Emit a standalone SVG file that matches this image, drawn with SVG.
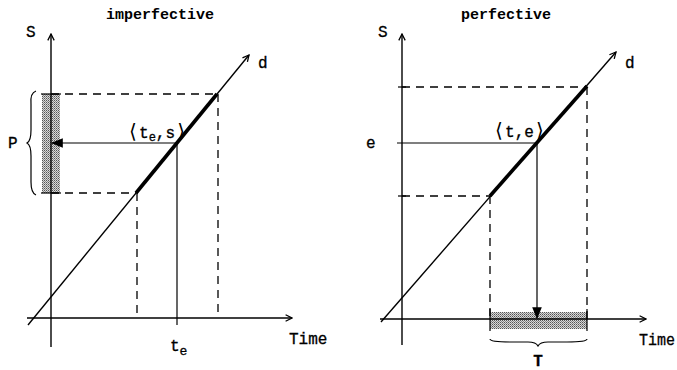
<svg xmlns="http://www.w3.org/2000/svg" width="677" height="370" viewBox="0 0 677 370">
<style>
.ln{stroke:#000;stroke-width:1.2;fill:none}
.ax{stroke:#000;stroke-width:1.4;fill:none;marker-end:url(#open)}
.ds{stroke:#000;stroke-width:1.3;fill:none;stroke-dasharray:8,6}
.thk{stroke:#000;stroke-width:3.6;fill:none;stroke-linecap:butt}
.tx{font-family:"Liberation Mono","DejaVu Sans Mono",monospace;font-size:16px;fill:#000;stroke:#000;stroke-width:0.3}
.tt{font-family:"Liberation Mono","DejaVu Sans Mono",monospace;font-size:15px;font-weight:bold;fill:#000}
.br{font-size:20px;stroke-width:0}
.sh{fill:url(#dots);stroke:none}
</style>
<defs>
<pattern id="dots" width="2" height="2" patternUnits="userSpaceOnUse">
<rect width="2" height="2" fill="#d8d8d8"/>
<rect width="1" height="1" fill="#555"/>
<rect x="1" y="1" width="1" height="1" fill="#888"/>
</pattern>
<marker id="open" viewBox="0 0 10 10" refX="9" refY="5" markerWidth="8" markerHeight="8" markerUnits="userSpaceOnUse" orient="auto">
<path d="M1,1 L9,5 L1,9" fill="none" stroke="#000" stroke-width="1.6"/>
</marker>
<marker id="fill" viewBox="0 0 10 10" refX="9" refY="5" markerWidth="12" markerHeight="12" markerUnits="userSpaceOnUse" orient="auto">
<path d="M0,1 L10,5 L0,9 Z" fill="#000"/>
</marker>
</defs>

<g id="titles">
<text class="tt" x="160" y="19" text-anchor="middle">imperfective</text>
<text class="tt" x="506" y="19" text-anchor="middle">perfective</text>
</g>

<!-- LEFT PANEL -->
<g id="left-shading">
<rect class="sh" x="42" y="94" width="18" height="99"/>
<line class="ln" x1="41" y1="94" x2="61" y2="94" stroke-width="2"/>
<line class="ln" x1="41" y1="193" x2="61" y2="193" stroke-width="2"/>
</g>
<g id="left-connectors">
<line class="ax" x1="51" y1="347" x2="51" y2="34"/>
<line class="ax" x1="27" y1="318" x2="292" y2="318"/>
<line class="ax" x1="28" y1="325" x2="249" y2="55"/>
<line class="thk" x1="136" y1="193" x2="217" y2="94"/>
<line class="ds" x1="51" y1="94" x2="217" y2="94"/>
<line class="ds" x1="218" y1="94" x2="218" y2="318"/>
<line class="ds" x1="51" y1="193" x2="136" y2="193"/>
<line class="ds" x1="137" y1="193" x2="137" y2="318"/>
<line class="ln" x1="177" y1="143" x2="177" y2="325"/>
<line class="ln" x1="177" y1="143" x2="52" y2="143" marker-end="url(#fill)"/>
<path class="ln" d="M36,91 Q30,93 31,104 L31,130 Q31,141 27,143 Q31,145 31,156 L31,182 Q31,193 36,195"/>
</g>
<g id="left-labels">
<text class="tx" x="26" y="37">S</text>
<text class="tx" x="258" y="68">d</text>
<text class="tx" x="8" y="148">P</text>
<text class="tx" x="127" y="138"><tspan class="br">⟨</tspan>t<tspan font-size="12" dy="3">e</tspan><tspan dy="-3">,s</tspan><tspan class="br">⟩</tspan></text>
<text class="tx" x="170" y="351">t<tspan font-size="13" dy="4">e</tspan></text>
<text class="tx" x="289" y="344">Time</text>
</g>

<!-- RIGHT PANEL -->
<g id="right-shading">
<rect class="sh" x="490" y="312" width="97" height="17"/>
<line class="ln" x1="490" y1="309" x2="490" y2="331" stroke-width="2"/>
<line class="ln" x1="587" y1="309" x2="587" y2="331" stroke-width="2"/>
</g>
<g id="right-connectors">
<line class="ax" x1="402" y1="345" x2="402" y2="34"/>
<line class="ax" x1="380" y1="319" x2="646" y2="319"/>
<line class="ax" x1="381" y1="322" x2="616" y2="52"/>
<line class="thk" x1="490" y1="196" x2="587" y2="86"/>
<line class="ln" x1="398" y1="87" x2="406" y2="87"/>
<line class="ln" x1="398" y1="196" x2="406" y2="196"/>
<line class="ds" x1="402" y1="87" x2="587" y2="87"/>
<line class="ds" x1="587" y1="87" x2="587" y2="319"/>
<line class="ds" x1="402" y1="196" x2="490" y2="196"/>
<line class="ds" x1="490" y1="196" x2="490" y2="319"/>
<line class="ln" x1="397" y1="143" x2="537" y2="143"/>
<line class="ln" x1="537" y1="143" x2="537" y2="318" marker-end="url(#fill)"/>
<path class="ln" d="M490,339 Q490,342 510,342 L528,342 Q536,342 538,346 Q540,342 548,342 L567,342 Q587,342 587,339"/>
</g>
<g id="right-labels">
<text class="tx" x="378" y="37">S</text>
<text class="tx" x="625" y="68">d</text>
<text class="tx" x="366" y="148">e</text>
<text class="tx" x="493" y="137"><tspan class="br">⟨</tspan>t,e<tspan class="br">⟩</tspan></text>
<text class="tx" x="538" y="366" text-anchor="middle" font-weight="bold">T</text>
<text class="tx" x="639" y="345" font-size="15" textLength="36" lengthAdjust="spacingAndGlyphs">Time</text>
</g>
</svg>
